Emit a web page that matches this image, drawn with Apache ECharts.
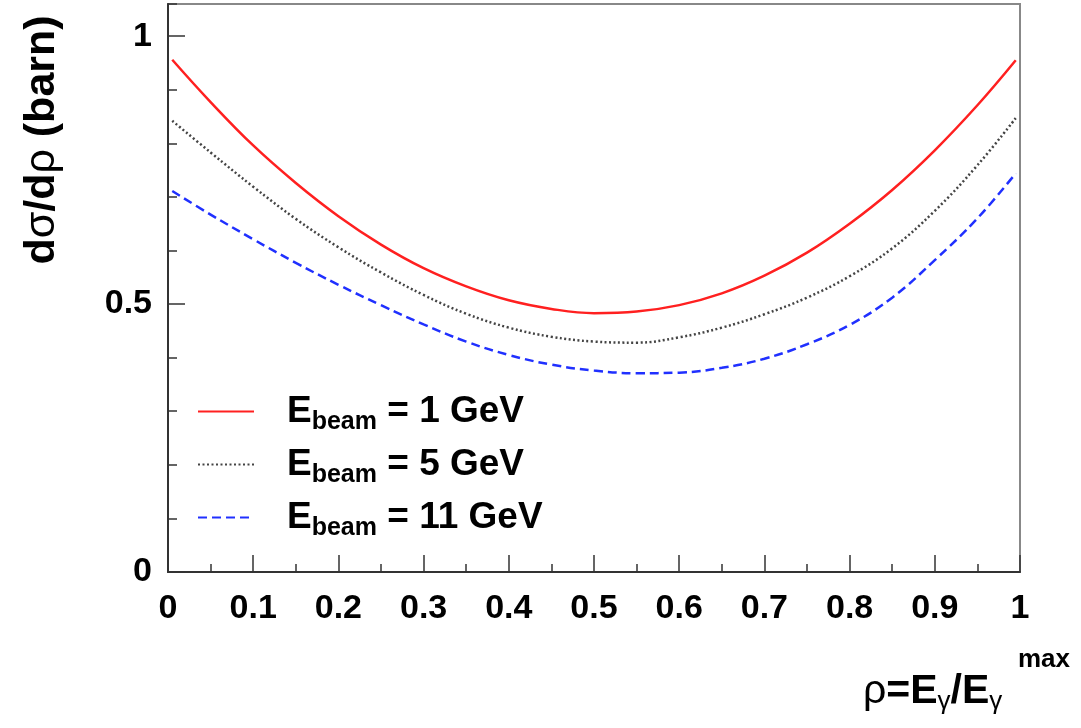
<!DOCTYPE html>
<html>
<head>
<meta charset="utf-8">
<script src="https://cdn.jsdelivr.net/npm/echarts@6/dist/echarts.min.js"></script>
<style>
  html, body { margin: 0; padding: 0; background: #fff; }
  #chart { width: 1081px; height: 728px; }
</style>
</head>
<body>
<div id="chart"></div>
<script>
// rho = E_gamma / E_gamma^max
var rho = [0.005, 0.05, 0.1, 0.15, 0.2, 0.25, 0.3, 0.35, 0.4, 0.45, 0.5,
           0.55, 0.6, 0.65, 0.7, 0.75, 0.8, 0.85, 0.9, 0.95, 0.995];
// d sigma / d rho (barn)
var beam1 = [0.956, 0.877, 0.796, 0.726, 0.664, 0.611, 0.567, 0.533, 0.507, 0.491, 0.483,
             0.486, 0.498, 0.520, 0.553, 0.596, 0.650, 0.713, 0.787, 0.871, 0.955];
var beam5 = [0.842, 0.783, 0.719, 0.659, 0.606, 0.559, 0.517, 0.482, 0.456, 0.439, 0.430,
             0.428, 0.438, 0.456, 0.481, 0.512, 0.552, 0.604, 0.674, 0.759, 0.847];
var beam11 = [0.711, 0.667, 0.621, 0.577, 0.536, 0.498, 0.462, 0.430, 0.405, 0.387, 0.376,
              0.371, 0.372, 0.381, 0.398, 0.425, 0.461, 0.512, 0.582, 0.660, 0.744];
var seriesNames = ['1 GeV', '5 GeV', '11 GeV'];

(function() {
  var chart = echarts.init(document.getElementById('chart'), null, { renderer: 'canvas' });
  var font = '"Liberation Sans", Arial, Helvetica, sans-serif';

  function pairs(ys) {
    return rho.map(function(x, i) { return [x, ys[i]]; });
  }

  chart.setOption({
    animation: false,
    backgroundColor: '#fff',
    grid: {
      left: 168, right: 61, top: 4, bottom: 156,
      show: true, borderColor: '#888', borderWidth: 2
    },
    xAxis: {
      type: 'value', min: 0, max: 1, interval: 0.1,
      axisLine: { lineStyle: { color: '#333', width: 2 } },
      axisTick: { inside: true, length: 17, lineStyle: { color: '#333', width: 1.5 } },
      minorTick: { show: true, splitNumber: 2, length: 8, lineStyle: { color: '#333', width: 1.5 } },
      splitLine: { show: false },
      axisLabel: { color: '#000', fontFamily: font, fontWeight: 'bold', fontSize: 34, margin: 20 }
    },
    yAxis: [
      {
        type: 'value', min: 0, max: 1.06, interval: 0.5,
        axisLine: { lineStyle: { color: '#333', width: 2 } },
        axisTick: { inside: true, length: 17, lineStyle: { color: '#333', width: 1.5 } },
        splitLine: { show: false },
        axisLabel: { color: '#000', fontFamily: font, fontWeight: 'bold', fontSize: 34, margin: 16, showMaxLabel: false }
      },
      {
        type: 'value', min: 0, max: 1.06, interval: 0.1, position: 'left',
        axisLine: { show: false },
        axisTick: { inside: true, length: 9, lineStyle: { color: '#333', width: 1.5 } },
        splitLine: { show: false },
        axisLabel: { show: false }
      }
    ],
    legend: {
      orient: 'vertical', left: 197, top: 393, padding: 0,
      itemWidth: 56, itemHeight: 14, itemGap: 11,
      itemStyle: { opacity: 0 },
      data: seriesNames,
      formatter: function(name) {
        return '{e|E}{s|beam}{t| = ' + name + '}';
      },
      textStyle: {
        color: '#000',
        rich: {
          e: { fontFamily: font, fontWeight: 'bold', fontSize: 37, padding: [0, 0, 0, 28] },
          s: { fontFamily: font, fontWeight: 'bold', fontSize: 25, padding: [22, 0, 0, 0] },
          t: { fontFamily: font, fontWeight: 'bold', fontSize: 37 }
        }
      }
    },
    graphic: [
      {
        type: 'text', x: 42, y: 140, rotation: Math.PI / 2,
        style: {
          text: '{b|d}{g|σ}{b|/d}{g|ρ}{b| (barn)}',
          align: 'center', verticalAlign: 'middle',
          rich: {
            b: { fontFamily: font, fontWeight: 'bold', fontSize: 43, fill: '#000' },
            g: { fontFamily: font, fontSize: 43, fill: '#000' }
          }
        }
      },
      {
        type: 'text', x: 863, y: 692,
        style: {
          text: '{r|ρ}{b|=E}{g|γ}{b|/E}{g|γ}',
          align: 'left', verticalAlign: 'middle',
          rich: {
            r: { fontFamily: font, fontSize: 41, fill: '#000' },
            b: { fontFamily: font, fontWeight: 'bold', fontSize: 41, fill: '#000' },
            g: { fontFamily: font, fontSize: 26, fill: '#000', padding: [20, 0, 0, 0] }
          }
        }
      },
      {
        type: 'text', x: 1018, y: 660,
        style: {
          text: 'max', align: 'left', verticalAlign: 'middle',
          fontFamily: font, fontWeight: 'bold', fontSize: 26, fill: '#000'
        }
      }
    ],
    series: [
      {
        name: seriesNames[0], type: 'line', data: pairs(beam1), smooth: 0.4,
        symbol: 'none', lineStyle: { color: '#ff2020', width: 2.5, type: 'solid' },
        itemStyle: { color: '#ff2020' }
      },
      {
        name: seriesNames[1], type: 'line', data: pairs(beam5), smooth: 0.4,
        symbol: 'none', lineStyle: { color: '#444', width: 2.5, type: [2, 2.5] },
        itemStyle: { color: '#444' }
      },
      {
        name: seriesNames[2], type: 'line', data: pairs(beam11), smooth: 0.4,
        symbol: 'none', lineStyle: { color: '#2030ff', width: 2.5, type: [9, 5] },
        itemStyle: { color: '#2030ff' }
      }
    ]
  });
})();
</script>
</body>
</html>
